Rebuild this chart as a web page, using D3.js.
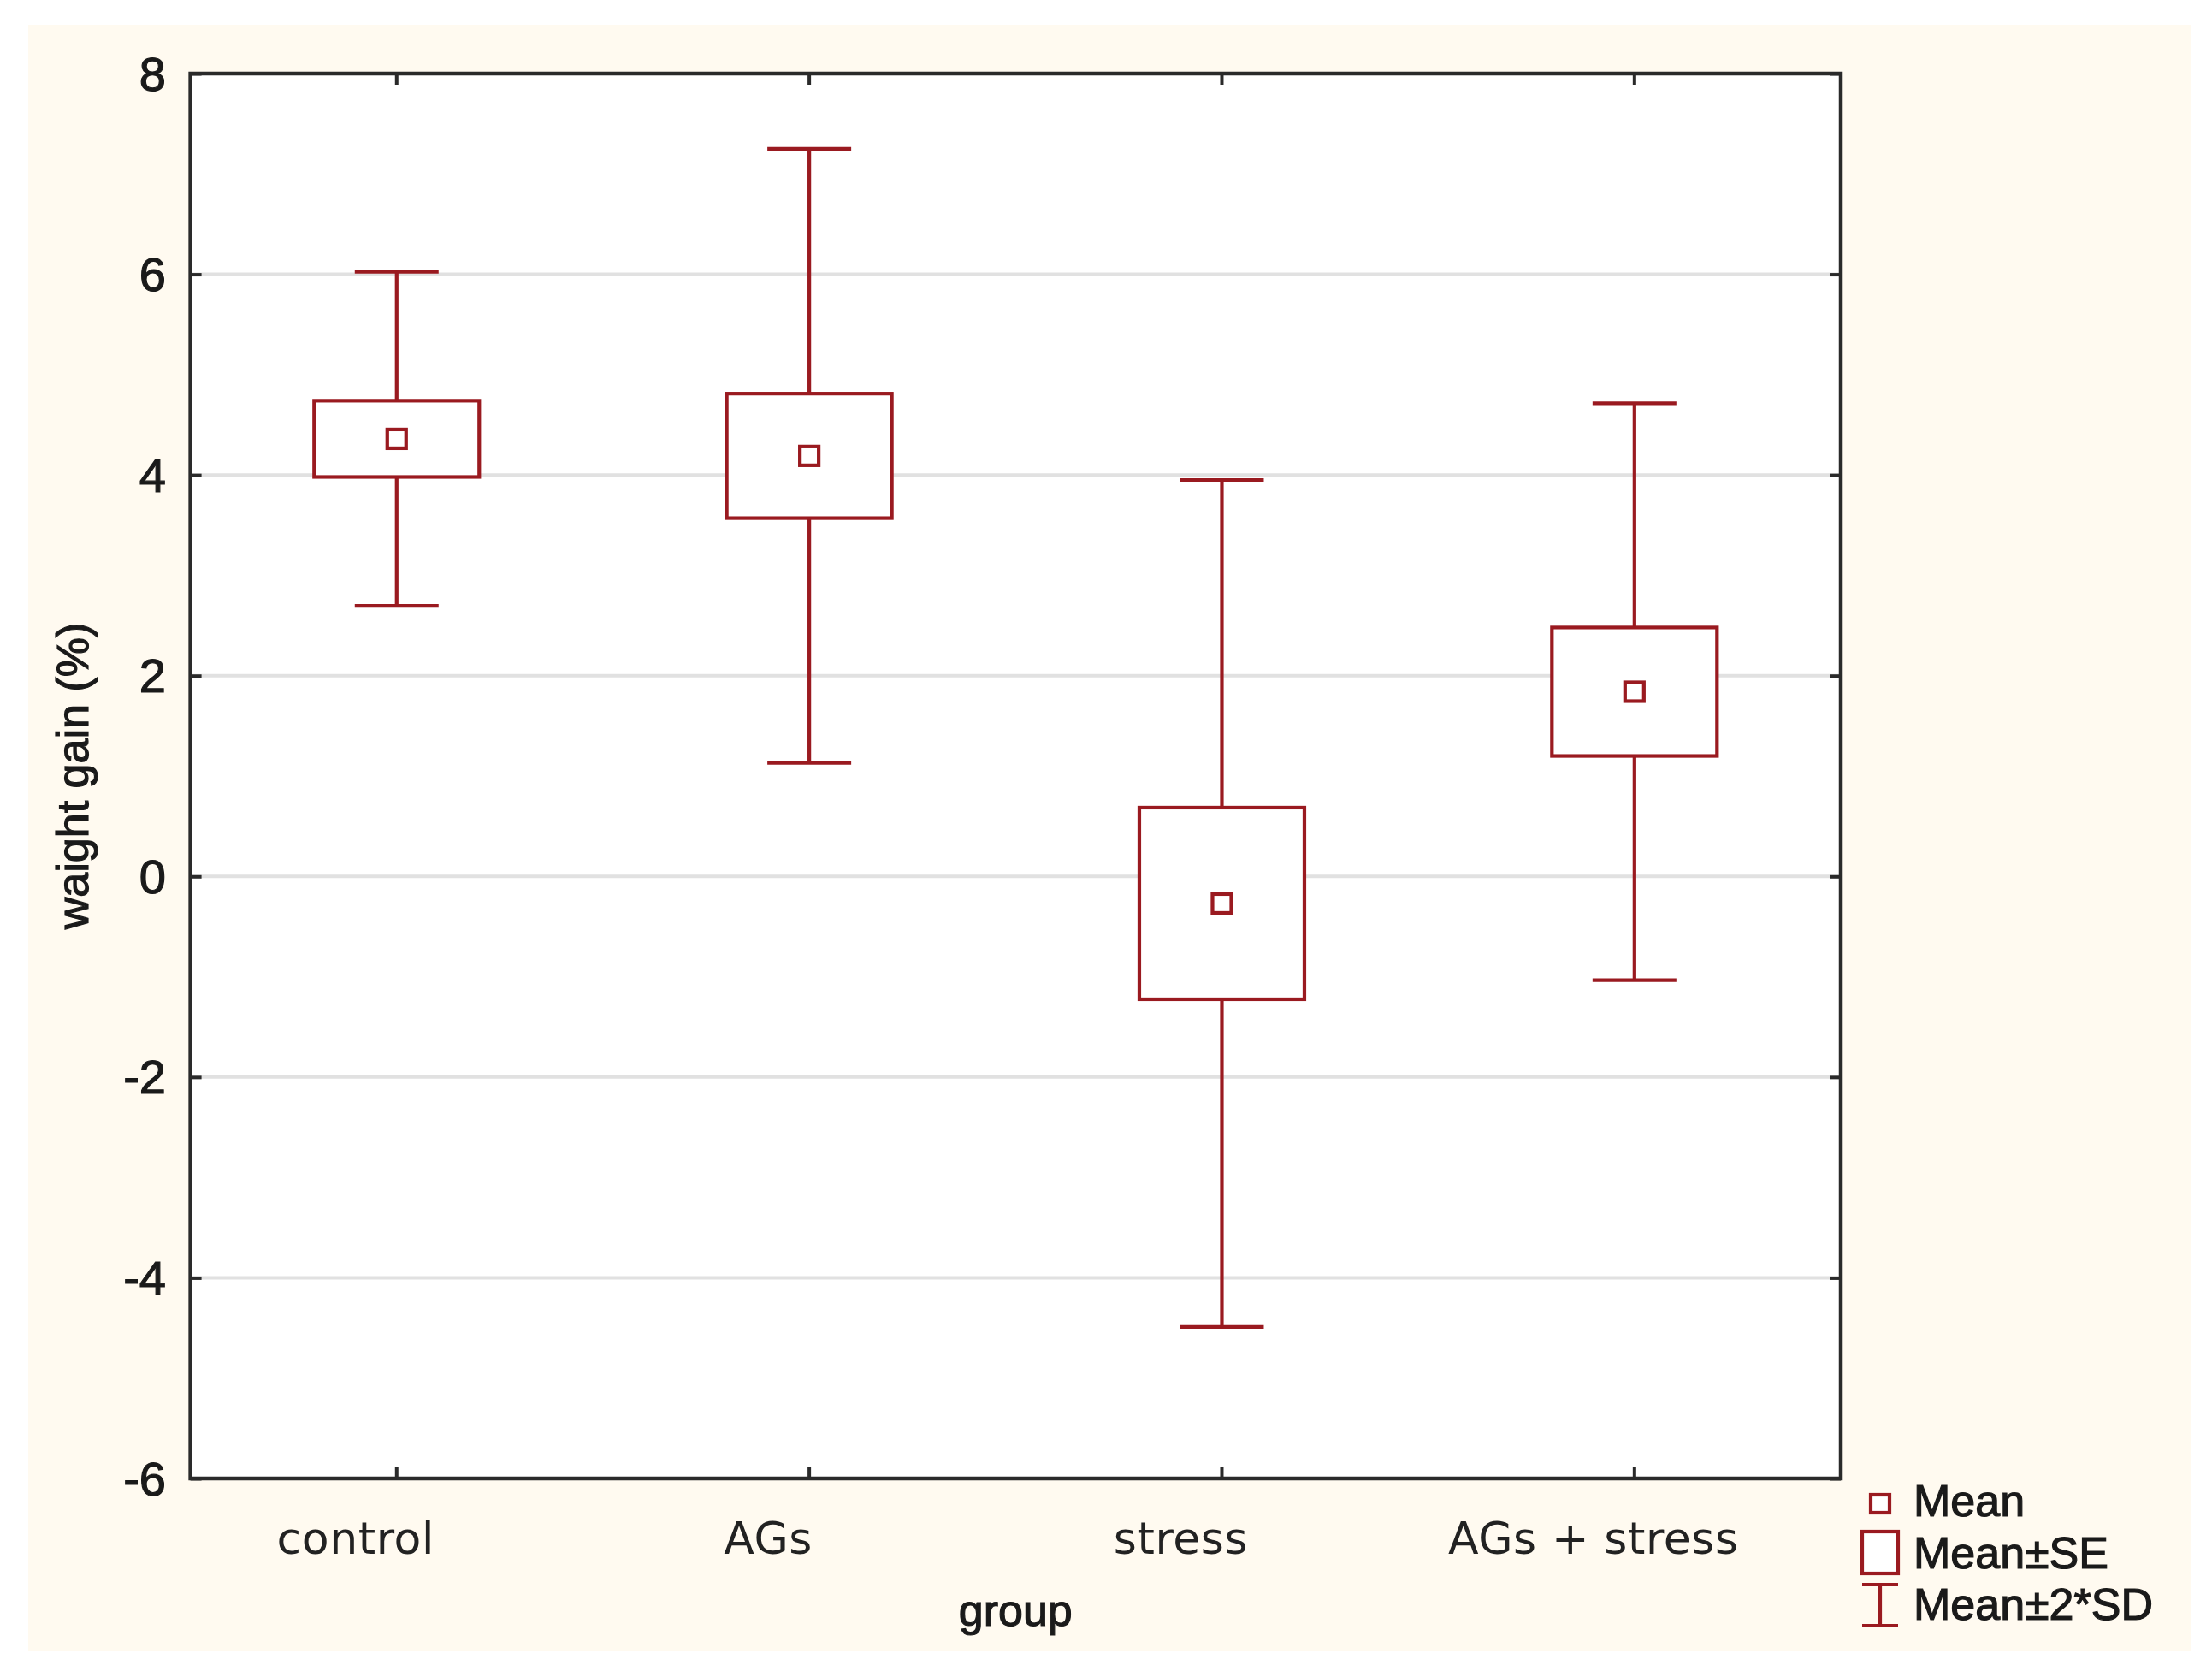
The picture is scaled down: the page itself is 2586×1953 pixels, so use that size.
<!DOCTYPE html>
<html>
<head>
<meta charset="utf-8">
<script src="https://cdn.jsdelivr.net/npm/d3@7"></script>
<style>
  html, body { margin: 0; padding: 0; background: #ffffff; }
  svg { display: block; }
</style>
</head>
<body>
<script>
// ---- data ----
const categories = ["control", "AGs", "stress", "AGs + stress"];
const means      = [4.36, 4.19, -0.27, 1.84];
const seHalf     = [0.38, 0.62, 0.955, 0.64];   // Mean ± SE
const sd2Half    = [1.665, 3.06, 4.22, 2.875];  // Mean ± 2*SD
const yTicks     = [-6, -4, -2, 0, 2, 4, 6, 8];
const legendItems = ["Mean", "Mean\u00B1SE", "Mean\u00B12*SD"];

const W = 2586, H = 1953;
const plot = { left: 222.6, right: 2152, top: 86, bottom: 1728 };
const red = "#9a1a20";
const arial = "Liberation Sans, Arial, sans-serif";

const svg = d3.select("body").append("svg")
  .attr("width", W).attr("height", H);

// cream background
svg.append("rect").attr("x", 33).attr("y", 29).attr("width", 2528).attr("height", 1901)
  .attr("fill", "#fffaf0");

const y = d3.scaleLinear().domain([-6, 8]).range([plot.bottom, plot.top]);
const x = d3.scaleBand().domain(categories).range([plot.left, plot.right]).padding(0);
const cx = c => x(c) + x.bandwidth() / 2;

// plot area
svg.append("rect").attr("x", plot.left).attr("y", plot.top)
  .attr("width", plot.right - plot.left).attr("height", plot.bottom - plot.top)
  .attr("fill", "#ffffff");

// gridlines
svg.append("g").selectAll("line").data(yTicks.filter(t => t > -6 && t < 8)).join("line")
  .attr("x1", plot.left).attr("x2", plot.right)
  .attr("y1", d => y(d)).attr("y2", d => y(d))
  .attr("stroke", "#e1e1e1").attr("stroke-width", 4);

// axes (ticks inward)
const tickLen = 13;
const axL = svg.append("g").attr("transform", `translate(${plot.left},0)`)
  .call(d3.axisRight(y).tickValues(yTicks).tickSize(tickLen).tickFormat(""));
const axR = svg.append("g").attr("transform", `translate(${plot.right},0)`)
  .call(d3.axisLeft(y).tickValues(yTicks).tickSize(tickLen).tickFormat(""));
const axB = svg.append("g").attr("transform", `translate(0,${plot.bottom})`)
  .call(d3.axisTop(x).tickSize(tickLen).tickFormat(""));
const axT = svg.append("g").attr("transform", `translate(0,${plot.top})`)
  .call(d3.axisBottom(x).tickSize(tickLen).tickFormat(""));
[axL, axR, axB, axT].forEach(a => {
  a.select(".domain").remove();
  a.selectAll(".tick line").attr("stroke", "#2a2a2a").attr("stroke-width", 4);
});

// frame
svg.append("rect").attr("x", plot.left).attr("y", plot.top)
  .attr("width", plot.right - plot.left).attr("height", plot.bottom - plot.top)
  .attr("fill", "none").attr("stroke", "#2a2a2a").attr("stroke-width", 4.5);

// y tick labels
svg.append("g").selectAll("text").data(yTicks).join("text")
  .attr("x", 194).attr("y", d => y(d))
  .attr("text-anchor", "end").attr("dominant-baseline", "central")
  .attr("font-family", arial)
  .attr("font-size", 56).attr("fill", "#1a1a1a")
  .attr("stroke", "#1a1a1a").attr("stroke-width", 1.2)
  .text(d => d);

// x tick labels
svg.append("g").selectAll("text").data(categories).join("text")
  .attr("x", d => cx(d) - 48).attr("y", 1816)
  .attr("text-anchor", "middle")
  .attr("font-family", "DejaVu Sans, Verdana, sans-serif")
  .attr("font-size", 52).attr("fill", "#222222")
  .attr("letter-spacing", 0.6)
  .text(d => d);

// axis titles
svg.append("text")
  .attr("transform", `translate(103,${(plot.top + plot.bottom) / 2}) rotate(-90)`)
  .attr("text-anchor", "middle")
  .attr("font-family", arial)
  .attr("font-size", 52).attr("fill", "#1a1a1a")
  .attr("stroke", "#1a1a1a").attr("stroke-width", 1.2)
  .text("waight gain (%)");
svg.append("text")
  .attr("x", (plot.left + plot.right) / 2).attr("y", 1900)
  .attr("text-anchor", "middle")
  .attr("font-family", arial)
  .attr("font-size", 52).attr("fill", "#1a1a1a")
  .attr("stroke", "#1a1a1a").attr("stroke-width", 1.2)
  .text("group");

// box plots
const boxW = 193, capW = 98, meanS = 22, sw = 4.2;
const g = svg.append("g").attr("fill", "none").attr("stroke", red).attr("stroke-width", sw);
categories.forEach((c, i) => {
  const X = cx(c), m = means[i];
  const sdLo = m - sd2Half[i], sdHi = m + sd2Half[i];
  const seLo = m - seHalf[i], seHi = m + seHalf[i];
  // whisker stem
  g.append("line").attr("x1", X).attr("x2", X).attr("y1", y(sdHi)).attr("y2", y(sdLo));
  // caps
  [sdHi, sdLo].forEach(v => g.append("line")
    .attr("x1", X - capW / 2).attr("x2", X + capW / 2)
    .attr("y1", y(v)).attr("y2", y(v)));
  // SE box
  g.append("rect").attr("x", X - boxW / 2).attr("y", y(seHi))
    .attr("width", boxW).attr("height", y(seLo) - y(seHi))
    .attr("fill", "#ffffff");
  // mean marker
  g.append("rect").attr("x", X - meanS / 2).attr("y", y(m) - meanS / 2)
    .attr("width", meanS).attr("height", meanS).attr("fill", "#ffffff");
});

// legend
const lg = svg.append("g");
const lx = 2198;
lg.append("rect").attr("x", lx - 11).attr("y", 1747).attr("width", 22).attr("height", 21)
  .attr("fill", "#ffffff").attr("stroke", red).attr("stroke-width", sw);
lg.append("rect").attr("x", lx - 21).attr("y", 1790).attr("width", 42).attr("height", 49)
  .attr("fill", "#ffffff").attr("stroke", red).attr("stroke-width", sw);
lg.append("line").attr("x1", lx).attr("x2", lx).attr("y1", 1852).attr("y2", 1900)
  .attr("stroke", red).attr("stroke-width", sw);
[1852, 1900].forEach(v => lg.append("line").attr("x1", lx - 21).attr("x2", lx + 21)
  .attr("y1", v).attr("y2", v).attr("stroke", red).attr("stroke-width", sw));
lg.selectAll("text").data(legendItems).join("text")
  .attr("x", 2237).attr("y", (d, i) => 1772 + i * 60.5)
  .attr("font-family", arial)
  .attr("font-size", 52).attr("fill", "#1a1a1a")
  .attr("stroke", "#1a1a1a").attr("stroke-width", 1.2)
  .text(d => d);
</script>
</body>
</html>
